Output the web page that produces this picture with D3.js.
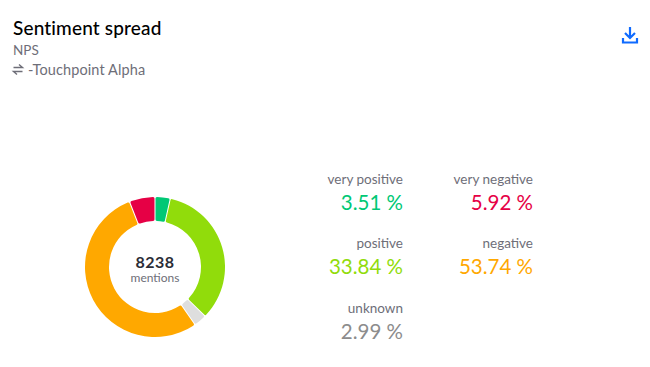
<!DOCTYPE html>
<html>
<head>
<meta charset="utf-8">
<script src="https://cdn.jsdelivr.net/npm/d3@7"></script>
<style>
html, body { margin: 0; padding: 0; background: #fff; }
svg { display: block; font-family: Lato, sans-serif; }
</style>
</head>
<body>
<svg id="chart" width="650" height="367"></svg>
<script>
const categories = ["very positive", "positive", "unknown", "negative", "very negative"];
const shares = [3.51, 33.84, 2.99, 53.74, 5.92];
const sliceColors = ["#00c875", "#91dc0b", "#dedede", "#ffa800", "#e60045"];
const labelColors = ["#00c875", "#91dc0b", "#8c8c8c", "#ffa800", "#e60045"];
const legendCols = [403, 533, 403, 533, 403];
const legendOrder = ["very positive", "very negative", "positive", "negative", "unknown"];
const legendRows = [184, 184, 248, 248, 313];

const svg = d3.select("#chart");

// header
svg.append("text").attr("x", 13).attr("y", 35)
    .attr("font-size", 19).attr("font-weight", 500).attr("letter-spacing", 0.15).attr("fill", "#000")
    .text("Sentiment spread");
svg.append("text").attr("x", 13).attr("y", 55)
    .attr("font-size", 13.5).attr("fill", "#6e6e78")
    .text("NPS");
svg.append("path")
    .attr("d", "M13.5,67.5H22.5L19,64.5M22.5,71.5H13.5L17,74.5")
    .attr("fill", "none").attr("stroke", "#6e6e78").attr("stroke-width", 1.4);
svg.append("text").attr("x", 28).attr("y", 75)
    .attr("font-size", 14.5).attr("letter-spacing", 0.1).attr("fill", "#6e6e78")
    .text("-Touchpoint Alpha");

// download icon
const icon = svg.append("g").attr("transform", "translate(630,36)")
    .attr("fill", "none").attr("stroke", "#0f6bff").attr("stroke-width", 2.2);
icon.append("path").attr("d", "M0,-9V2M-5,-3L0,2L5,-3");
icon.append("path").attr("d", "M-7,2V6.5H7V2");

// donut
const pie = d3.pie().sort(null).value(d => d);
const arc = d3.arc().innerRadius(46).outerRadius(70).cornerRadius(1.5).padAngle(0.012);
const donut = svg.append("g").attr("transform", "translate(155,267)");
donut.selectAll("path.slice")
    .data(pie(shares))
    .enter()
    .append("path")
    .attr("class", "slice")
    .attr("d", arc)
    .attr("fill", (d, i) => sliceColors[i]);
donut.append("text").attr("text-anchor", "middle").attr("y", 1)
    .attr("font-size", 16).attr("font-weight", 700).attr("letter-spacing", 0.5).attr("fill", "#2b2d36")
    .text("8238");
donut.append("text").attr("text-anchor", "middle").attr("y", 15)
    .attr("font-size", 12).attr("fill", "#6e6e78")
    .text("mentions");

// legend
legendOrder.forEach((name, i) => {
    const k = categories.indexOf(name);
    svg.append("text").attr("x", legendCols[i]).attr("y", legendRows[i])
        .attr("text-anchor", "end").attr("font-size", 13.5).attr("fill", "#6e6e78")
        .text(name);
    svg.append("text").attr("x", legendCols[i]).attr("y", legendRows[i] + 26)
        .attr("text-anchor", "end").attr("font-size", 20.5).attr("fill", labelColors[k])
        .text(shares[k].toFixed(2) + " %");
});
</script>
</body>
</html>
